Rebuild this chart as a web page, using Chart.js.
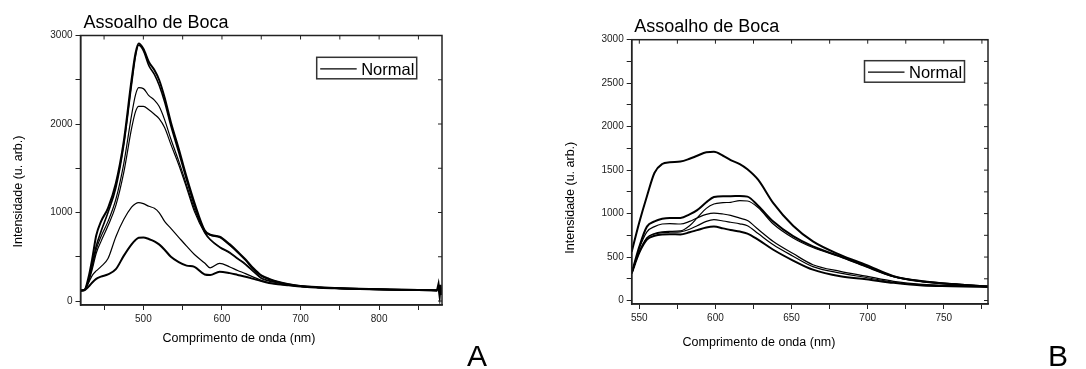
<!DOCTYPE html>
<html>
<head>
<meta charset="utf-8">
<script src="https://cdn.jsdelivr.net/npm/chart.js@4"></script>
<style>
  html, body { margin: 0; padding: 0; background: #fff; }
  #wrap { position: relative; width: 1086px; height: 369px; overflow: hidden; }
  .box { position: absolute; top: 0; height: 369px; }
  #boxA { left: 0; width: 540px; }
  #boxB { left: 540px; width: 546px; }
  .tag { position: absolute; font-family: 'Liberation Sans', Arial, sans-serif; font-size: 30px; line-height: 30px; color: #000; }
</style>
</head>
<body>
<div id="wrap">
  <div class="box" id="boxA"><canvas id="chartA"></canvas></div>
  <div class="box" id="boxB"><canvas id="chartB"></canvas></div>
  <div class="tag" style="left:467px;top:341px">A</div>
  <div class="tag" style="left:1048px;top:341px">B</div>
</div>
<script>
  var FONT = "'Liberation Sans', Arial, sans-serif";

  // --- painel A
  var waveA = [420, 425, 430, 435, 440, 446, 455, 465, 475, 485, 490, 494, 500, 507, 514, 520, 527, 535, 545, 555,
               565, 578, 585, 597, 610, 620, 630, 640, 650, 660, 671, 685, 700, 725, 750, 800, 850, 874];
  var a1 = [118, 125, 260, 480, 740, 897, 1050, 1330, 1800, 2500, 2800, 2910, 2850, 2700, 2610, 2500, 2300, 2020, 1720, 1400,
            1110, 800, 750, 727, 640, 557, 470, 370, 290, 250, 218, 190, 170, 155, 145, 132, 125, 120];
  var a2 = [118, 125, 230, 420, 620, 784, 1000, 1280, 1760, 2450, 2770, 2890, 2830, 2660, 2560, 2440, 2250, 1980, 1680, 1370,
            1080, 790, 745, 720, 630, 550, 460, 360, 285, 245, 215, 188, 168, 153, 143, 131, 124, 120];
  var a3 = [118, 125, 220, 390, 580, 727, 900, 1150, 1550, 2100, 2330, 2410, 2400, 2320, 2270, 2200, 2050, 1830, 1580, 1310,
            1040, 780, 700, 614, 550, 482, 420, 340, 262, 230, 210, 185, 168, 152, 142, 131, 124, 120];
  var a4 = [118, 125, 210, 360, 540, 671, 850, 1080, 1450, 1950, 2140, 2200, 2200, 2160, 2110, 2060, 1960, 1770, 1540, 1280,
            1010, 770, 690, 605, 540, 475, 410, 330, 255, 225, 205, 183, 166, 152, 142, 131, 124, 120];
  var a5 = [118, 125, 200, 290, 340, 388, 480, 727, 920, 1060, 1100, 1112, 1100, 1070, 1048, 1000, 900, 820, 720, 620,
            525, 430, 375, 426, 385, 345, 310, 270, 235, 205, 190, 178, 165, 150, 142, 131, 124, 120];
  var a6 = [118, 122, 160, 210, 250, 275, 300, 360, 510, 640, 690, 715, 718, 700, 675, 640, 580, 500, 440, 400,
            385, 300, 294, 332, 315, 295, 275, 250, 225, 204, 190, 178, 165, 150, 142, 131, 124, 120];
  var widthsA = [2, 1.6, 1.2, 1.2, 1.2, 2];
  // ruido no fim do espectro A
  var waveEndA = [874, 875.5, 877, 878, 879, 880];
  var endA = [120, 178, 72, 182, 70, 150];
  var xTicksA = [450, 500, 550, 600, 650, 700, 750, 800, 850];
  var xLabelsA = [500, 600, 700, 800];
  var yTicksA = [0, 500, 1000, 1500, 2000, 2500, 3000];
  var yLabelsA = [0, 1000, 2000, 3000];

  // --- painel B
  var waveB = [545, 550, 555, 560, 565, 570, 577, 583, 588, 594, 599, 605, 610, 616, 621, 628, 638, 651, 664, 682,
               699, 717, 736, 755, 779];
  var b1 = [560, 900, 1200, 1470, 1570, 1590, 1598, 1630, 1665, 1705, 1710, 1665, 1615, 1570, 1510, 1390, 1120, 860, 680, 525,
            410, 280, 220, 190, 162];
  var b2 = [315, 620, 850, 910, 940, 950, 950, 990, 1040, 1130, 1190, 1200, 1200, 1203, 1195, 1090, 908, 740, 622, 508,
            395, 278, 221, 190, 162];
  var b3 = [315, 560, 720, 770, 790, 795, 800, 860, 950, 1060, 1110, 1125, 1130, 1149, 1145, 1070, 880, 720, 610, 500,
            385, 275, 218, 188, 162];
  var b4 = [315, 600, 790, 850, 880, 885, 880, 910, 950, 990, 1005, 995, 980, 947, 920, 820, 679, 540, 412, 336,
            280, 221, 185, 172, 160];
  var b5 = [315, 560, 720, 765, 780, 785, 790, 820, 860, 910, 930, 915, 900, 882, 860, 770, 641, 510, 390, 315,
            265, 210, 180, 170, 158];
  var b6 = [315, 550, 700, 745, 760, 762, 760, 785, 810, 840, 850, 830, 810, 794, 770, 700, 584, 460, 355, 278,
            245, 203, 172, 165, 157];
  var widthsB = [2, 2, 1.2, 1.2, 1.2, 2];
  var xTicksB = [550, 575, 600, 625, 650, 675, 700, 725, 750, 775];
  var xLabelsB = [550, 600, 650, 700, 750];
  var yTicksB = [0, 250, 500, 750, 1000, 1250, 1500, 1750, 2000, 2250, 2500, 2750, 3000];
  var yLabelsB = [0, 500, 1000, 1500, 2000, 2500, 3000];

  var decor = {
    id: 'decor',
    afterDraw: function(chart, args, o) {
      var ctx = chart.ctx, a = chart.chartArea, x = chart.scales.x, y = chart.scales.y;
      ctx.save();
      ctx.strokeStyle = '#222';
      ctx.lineWidth = 1.5;
      ctx.strokeRect(a.left, a.top, a.right - a.left, a.bottom - a.top);
      // ticks para dentro no topo e na direita
      ctx.lineWidth = 1;
      x.ticks.forEach(function(t) {
        var px = x.getPixelForValue(t.value);
        ctx.beginPath(); ctx.moveTo(px, a.top); ctx.lineTo(px, a.top + 4); ctx.stroke();
      });
      y.ticks.forEach(function(t) {
        var py = y.getPixelForValue(t.value);
        ctx.beginPath(); ctx.moveTo(a.right, py); ctx.lineTo(a.right - 4, py); ctx.stroke();
      });
      ctx.fillStyle = '#000';
      ctx.textBaseline = 'alphabetic';
      ctx.textAlign = 'left';
      ctx.font = '18px ' + FONT;
      ctx.fillText(o.title, a.left + o.titleDx, a.top + o.titleDy);
      // titulos dos eixos
      ctx.font = '12.5px ' + FONT;
      ctx.textAlign = 'center';
      ctx.textBaseline = 'middle';
      ctx.fillText(o.xTitle, a.left + o.xTitleDx, a.bottom + o.xTitleDy);
      ctx.save();
      ctx.translate(a.left + o.yTitleDx, a.top + o.yTitleDy);
      ctx.rotate(-Math.PI / 2);
      ctx.fillText(o.yTitle, 0, 0);
      ctx.restore();
      // legenda
      var lx = a.right + o.legDx, ly = a.top + o.legDy;
      ctx.strokeStyle = '#333';
      ctx.lineWidth = 1.5;
      ctx.strokeRect(lx, ly, 100, 21.5);
      ctx.strokeStyle = '#000';
      ctx.lineWidth = 1.3;
      ctx.beginPath(); ctx.moveTo(lx + 3.5, ly + 11.5); ctx.lineTo(lx + 40, ly + 11.5); ctx.stroke();
      ctx.font = '16.5px ' + FONT;
      ctx.textAlign = 'left';
      ctx.textBaseline = 'alphabetic';
      ctx.fillText(o.legend, lx + 44.5, ly + 17.5);
      ctx.restore();
    }
  };

  function toPoints(wave, vals) {
    return wave.map(function(w, i) { return {x: w, y: vals[i]}; });
  }

  function axis(min, max, tickVals, labelVals) {
    return {
      type: 'linear',
      min: min,
      max: max,
      afterBuildTicks: function(s) { s.ticks = tickVals.map(function(v) { return {value: v}; }); },
      ticks: {
        autoSkip: false,
        maxRotation: 0,
        padding: 3,
        color: '#222',
        font: {family: FONT, size: 10},
        callback: function(v) { return labelVals.indexOf(v) >= 0 ? v : ''; }
      },
      grid: {drawOnChartArea: false, drawTicks: true, tickLength: 5, tickColor: '#222'},
      border: {color: '#222', width: 1.5}
    };
  }

  function line(wave, vals, w, smooth) {
    return {
      label: 'Normal',
      data: toPoints(wave, vals),
      borderColor: '#000',
      borderWidth: w,
      pointRadius: 0,
      fill: false,
      cubicInterpolationMode: smooth ? 'monotone' : 'default',
      tension: 0
    };
  }

  function makeChart(id, c) {
    var xs = axis(c.xMin, c.xMax, c.xTicks, c.xLabels);
    xs.afterFit = function(s) { s.height = c.xHeight; };
    var ys = axis(c.yMin, c.yMax, c.yTicks, c.yLabels);
    ys.afterFit = function(s) { s.width = c.yWidth; };
    var sets = c.series.map(function(v, i) { return line(c.wave, v, c.widths[i], true); });
    if (c.extra) sets.push(line(c.extra.wave, c.extra.vals, 2.5, false));
    return new Chart(document.getElementById(id).getContext('2d'), {
      type: 'line',
      data: {datasets: sets},
      options: {
        responsive: true,
        maintainAspectRatio: false,
        animation: false,
        layout: {padding: c.pad},
        scales: {x: xs, y: ys},
        plugins: {
          legend: {display: false},
          tooltip: {enabled: false},
          decor: c.deco
        }
      },
      plugins: [decor]
    });
  }

  makeChart('chartA', {
    wave: waveA,
    series: [a1, a2, a3, a4, a5, a6],
    widths: widthsA,
    extra: {wave: waveEndA, vals: endA},
    xMin: 420, xMax: 880, yMin: -45, yMax: 3000,
    xTicks: xTicksA, xLabels: xLabelsA, yTicks: yTicksA, yLabels: yLabelsA,
    pad: {left: 0, top: 35.5, right: 98, bottom: 17},
    yWidth: 80.5, xHeight: 47,
    deco: {
      title: 'Assoalho de Boca', titleDx: 3, titleDy: -7.2,
      xTitle: 'Comprimento de onda (nm)', xTitleDx: 158.5, xTitleDy: 34,
      yTitle: 'Intensidade (u. arb.)', yTitleDx: -61.5, yTitleDy: 156,
      legend: 'Normal', legDx: -125.3, legDy: 21.8
    }
  });

  makeChart('chartB', {
    wave: waveB,
    series: [b1, b2, b3, b4, b5, b6],
    widths: widthsB,
    xMin: 545, xMax: 779, yMin: -40, yMax: 3000,
    xTicks: xTicksB, xLabels: xLabelsB, yTicks: yTicksB, yLabels: yLabelsB,
    pad: {left: 0, top: 39.7, right: 98, bottom: 18},
    yWidth: 91.7, xHeight: 47,
    deco: {
      title: 'Assoalho de Boca', titleDx: 2.5, titleDy: -7.7,
      xTitle: 'Comprimento de onda (nm)', xTitleDx: 127.3, xTitleDy: 38.7,
      yTitle: 'Intensidade (u. arb.)', yTitleDx: -60.8, yTitleDy: 158,
      legend: 'Normal', legDx: -123.5, legDy: 21
    }
  });
</script>
</body>
</html>
